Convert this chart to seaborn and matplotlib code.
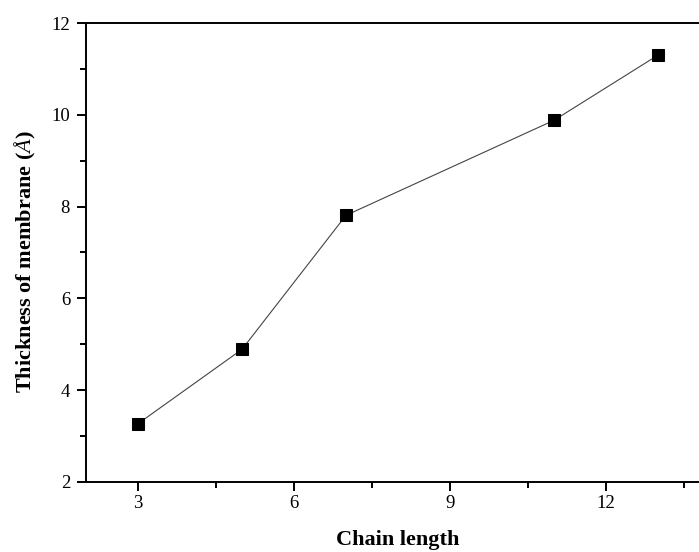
import numpy as np
import pandas as pd
import seaborn as sns
import matplotlib.pyplot as plt
from matplotlib.ticker import MultipleLocator

chain_length = [3, 5, 7, 11, 13]
thickness = [3.27, 4.89, 7.81, 9.88, 11.30]

sns.set_theme(style="ticks")
plt.rcParams['font.family'] = ['Liberation Serif', 'DejaVu Serif']
plt.rcParams['mathtext.fontset'] = 'custom'
plt.rcParams['mathtext.rm'] = 'Liberation Serif'
plt.rcParams['mathtext.it'] = 'Liberation Serif:italic'
plt.rcParams['mathtext.bf'] = 'Liberation Serif:bold'
plt.rcParams['axes.labelcolor'] = 'black'

df = pd.DataFrame({"Chain length": chain_length, "Thickness": thickness})

fig = plt.figure(figsize=(6.99, 5.52), dpi=100)
ax = fig.add_axes([86 / 699, 1 - 482 / 552, 624 / 699, (482 - 23) / 552])

sns.lineplot(data=df, x="Chain length", y="Thickness", ax=ax,
             color="#444444", linewidth=0.8, marker="s", markersize=8.5,
             markerfacecolor="black", markeredgecolor="black")

ax.set_xlim(2, 14)
ax.set_ylim(2, 12)
ax.xaxis.set_major_locator(MultipleLocator(3))
ax.xaxis.set_minor_locator(MultipleLocator(1.5))
ax.yaxis.set_major_locator(MultipleLocator(2))
ax.yaxis.set_minor_locator(MultipleLocator(1))

for side in ["left", "bottom", "top"]:
    ax.spines[side].set_visible(True)
    ax.spines[side].set_linewidth(1.4)
    ax.spines[side].set_color("black")
ax.spines["right"].set_visible(False)

ax.tick_params(axis="both", which="major", direction="out", length=6.5, width=1.4,
               labelsize=13.5, colors="black")
ax.tick_params(axis="x", which="major", pad=3)
ax.tick_params(axis="y", which="major", pad=5)
ax.tick_params(axis="both", which="minor", direction="out", length=4.5, width=1.4,
               colors="black")
ax.tick_params(top=False, right=False, which="both")

ax.set_xlabel("Chain length", fontsize=16, fontweight="bold", labelpad=13,
              color="black")
ax.set_ylabel(r"Thickness of membrane ($\mathit{Å}$)", fontsize=16,
              fontweight="bold", color="black")
ax.yaxis.set_label_coords(-0.077, 0.48)

fig.savefig("out.png", dpi=100)
